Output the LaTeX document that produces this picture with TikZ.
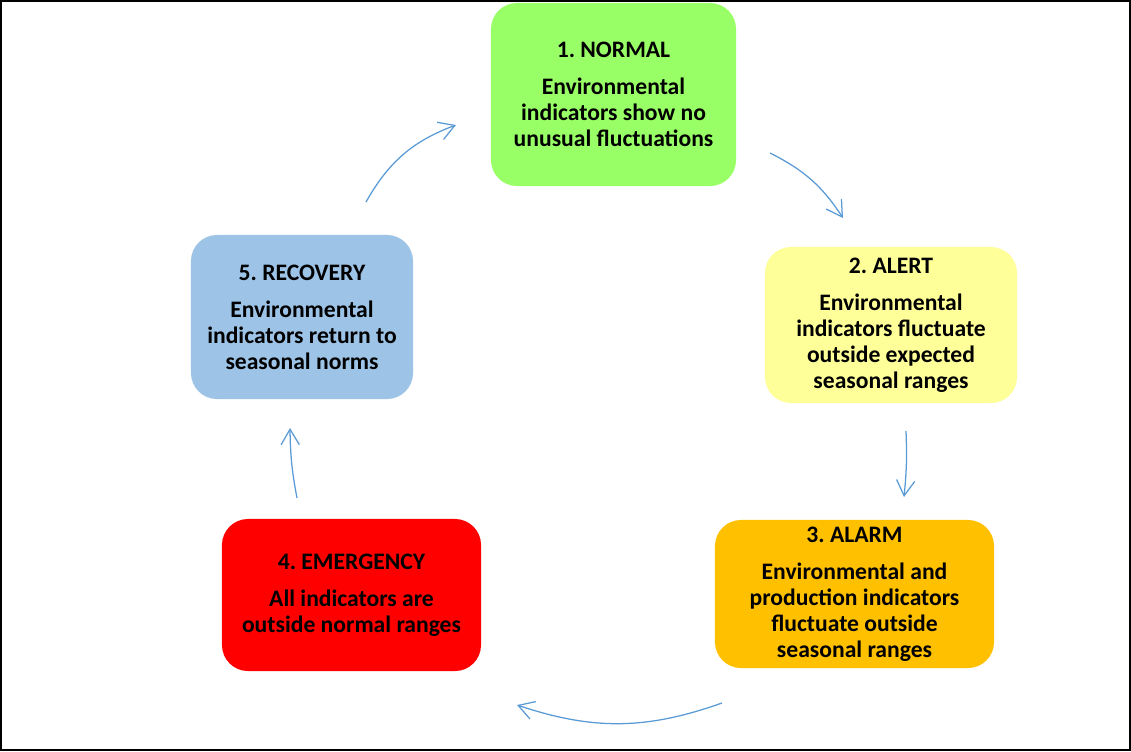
\documentclass[tikz,border=0pt]{standalone}
\usepackage{fontspec}
\setmainfont{Carlito}
\usetikzlibrary{arrows.meta,positioning}
\definecolor{normalgreen}{RGB}{153,255,102}
\definecolor{alertyellow}{RGB}{255,255,153}
\definecolor{alarmorange}{RGB}{255,192,0}
\definecolor{emergred}{RGB}{255,0,0}
\definecolor{recovblue}{RGB}{157,195,230}
\definecolor{flowblue}{RGB}{91,155,213}
\frenchspacing

\begin{document}
\begin{tikzpicture}[x=0.025cm,y=-0.025cm,every node/.style={font=\bfseries\fontsize{16.8}{18.5}\selectfont},
stage/.style={rounded corners=0.65cm,align=center,inner sep=0pt},
flow/.style={draw=flowblue,line width=0.9pt,-{Straight Barb[length=11pt,width=13pt]}}]
\useasboundingbox (0,0) rectangle (1131,751);
\draw[line width=1.4pt] (1,1) rectangle (1130,750);
% the five stages
\node[stage,fill=normalgreen,minimum width=6.125cm,minimum height=4.575cm](normal) at (613.5,94.5){1. NORMAL\\[7.8pt]Environmental\\indicators show no\\unusual fluctuations};
\node[stage,fill=alertyellow,minimum width=6.3cm,minimum height=3.9cm](alert) at (891,325){2. ALERT\\[7.8pt]Environmental\\indicators fluctuate\\outside expected\\seasonal ranges};
\node[stage,fill=alarmorange,minimum width=6.975cm,minimum height=3.7cm](alarm) at (854.5,594){3. ALARM\\[7.8pt]Environmental and\\production indicators\\fluctuate outside\\seasonal ranges};
\node[stage,fill=emergred,minimum width=6.475cm,minimum height=3.8cm](emerg) at (351.5,595){4. EMERGENCY\\[7.8pt]All indicators are\\outside normal ranges};
\node[stage,fill=recovblue,minimum width=5.55cm,minimum height=4.1cm](recov) at (302,317){5. RECOVERY\\[7.8pt]Environmental\\indicators return to\\seasonal norms};
% arrow ends
\coordinate (s1) at (366,202);\coordinate (t1) at (456,125);
\coordinate (s2) at (770,153);\coordinate (t2) at (843,218);
\coordinate (s3) at (906,431);\coordinate (t3) at (904,497);
\coordinate (s4) at (722,703);\coordinate (t4) at (517,705);
\coordinate (s5) at (297,498);\coordinate (t5) at (290,428);
\draw[flow](s1) to[bend left=20] (t1);
\draw[flow](s2) to[bend left=15] (t2);
\draw[flow](s3) to[bend left=4] (t3);
\draw[flow](s4) to[bend left=19] (t4);
\draw[flow](s5) to[bend left=5] (t5);
\end{tikzpicture}
\end{document}
